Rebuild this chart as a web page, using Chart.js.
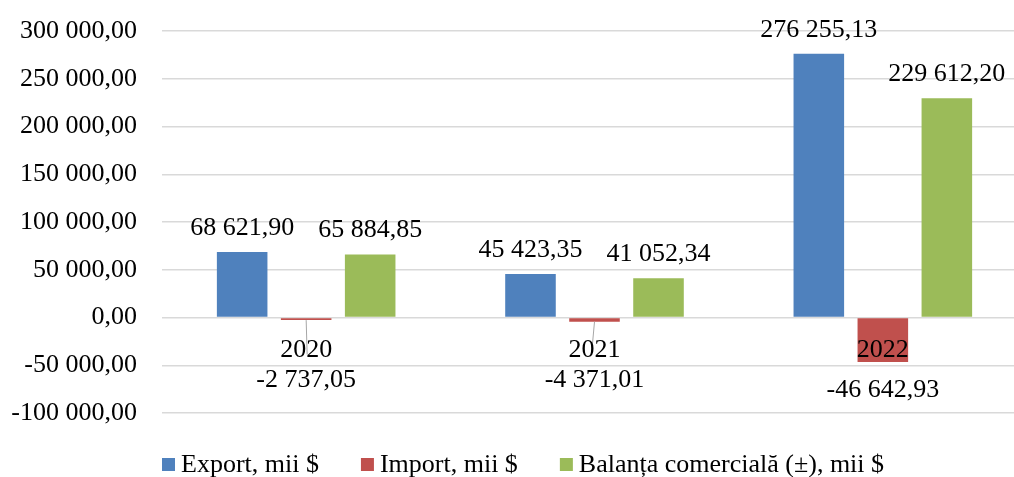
<!DOCTYPE html>
<html>
<head>
<meta charset="utf-8">
<script src="https://cdn.jsdelivr.net/npm/chart.js@4/dist/chart.umd.min.js"></script>
<style>
  html, body { margin: 0; padding: 0; background: #fff; overflow: hidden; }
  #wrap { width: 1014px; height: 477px; overflow: hidden; }
  #box { width: 1040px; height: 477px; }
</style>
</head>
<body>
<div id="wrap"><div id="box"><canvas id="chart"></canvas></div></div>
<script>
// date
const years = ['2020', '2021', '2022'];
const exportVals = [68621.90, 45423.35, 276255.13];
const importVals = [-2737.05, -4371.01, -46642.93];
const balanceVals = [65884.85, 41052.34, 229612.20];
const seriesNames = ['Export, mii $', 'Import, mii $', 'Balanța comercială (±), mii $'];
const seriesColors = ['#4F81BD', '#C0504D', '#9BBB59'];
const yMin = -100000;
const yMax = 300000;
const yStep = 50000;

const FONT = '"Liberation Serif", "Times New Roman", serif';

/**
 * 300 000,00 format
 */
function fmt(v) {
  const neg = v < 0;
  const parts = Math.abs(v).toFixed(2).split('.');
  const intPart = parts[0].replace(/\B(?=(\d{3})+(?!\d))/g, ' ');
  return (neg ? '-' : '') + intPart + ',' + parts[1];
}

// data labels + leader lines
const valueLabels = {
  id: 'valueLabels',
  afterDatasetsDraw(chart) {
    const ctx = chart.ctx;
    const zeroY = chart.scales.y.getPixelForValue(0);
    ctx.save();
    ctx.font = '26px ' + FONT;
    ctx.fillStyle = '#000';
    ctx.textAlign = 'center';
    ctx.textBaseline = 'middle';
    chart.data.datasets.forEach((ds, di) => {
      chart.getDatasetMeta(di).data.forEach((bar, i) => {
        const v = ds.data[i];
        if (v >= 0) {
          ctx.fillText(fmt(v), bar.x, bar.y - 24);
        } else {
          const ly = Math.max(bar.y + 28, zeroY + 63);
          if (ly - bar.y > 40) {
            ctx.strokeStyle = '#A6A6A6';
            ctx.lineWidth = 1;
            ctx.beginPath();
            ctx.moveTo(bar.x, bar.y);
            ctx.lineTo(bar.x + (i === 1 ? -3 : 1), ly - 26);
            ctx.stroke();
          }
          ctx.fillText(fmt(v), bar.x, ly);
        }
      });
    });

    // category labels next to the zero line, on top of bars
    chart.data.labels.forEach((lbl, i) => {
      ctx.fillText(lbl, chart.scales.x.getPixelForValue(i), zeroY + 33);
    });
    ctx.restore();
  }
};

// legend at bottom
const bottomLegend = {
  id: 'bottomLegend',
  afterDraw(chart) {
    const ctx = chart.ctx;
    ctx.save();
    ctx.font = '26px ' + FONT;
    ctx.textBaseline = 'middle';
    ctx.textAlign = 'left';
    let x = chart.chartArea.left;
    const y = 465;
    seriesNames.forEach((name, i) => {
      ctx.fillStyle = seriesColors[i];
      ctx.fillRect(x, y - 7, 13, 13);
      ctx.fillStyle = '#000';
      ctx.fillText(name, x + 19, y);
      x += 19 + ctx.measureText(name).width + 42;
    });
    ctx.restore();
  }
};

const ctx = document.getElementById('chart').getContext('2d');
new Chart(ctx, {
  type: 'bar',
  data: {
    labels: years,
    datasets: [
      { label: seriesNames[0], data: exportVals, backgroundColor: seriesColors[0] },
      { label: seriesNames[1], data: importVals, backgroundColor: seriesColors[1] },
      { label: seriesNames[2], data: balanceVals, backgroundColor: seriesColors[2] }
    ]
  },
  options: {
    responsive: true,
    maintainAspectRatio: false,
    animation: false,
    categoryPercentage: 0.666,
    barPercentage: 0.79,
    layout: {
      padding: { left: 0, right: 13, top: 31, bottom: 64 }
    },
    plugins: {
      legend: { display: false },
      tooltip: { enabled: false }
    },
    scales: {
      x: {
        display: false
      },
      y: {
        min: yMin,
        max: yMax,
        afterFit: s => {
          s.width = 162;
          s.paddingTop = 0;
          s.paddingBottom = 0;
        },
        grid: { color: '#D9D9D9', lineWidth: 1.5, drawTicks: false },
        border: { display: false },
        ticks: {
          stepSize: yStep,
          padding: 25,
          color: '#000',
          font: { family: FONT, size: 26 },
          callback: v => fmt(v)
        }
      }
    }
  },
  plugins: [valueLabels, bottomLegend]
});
</script>
</body>
</html>
